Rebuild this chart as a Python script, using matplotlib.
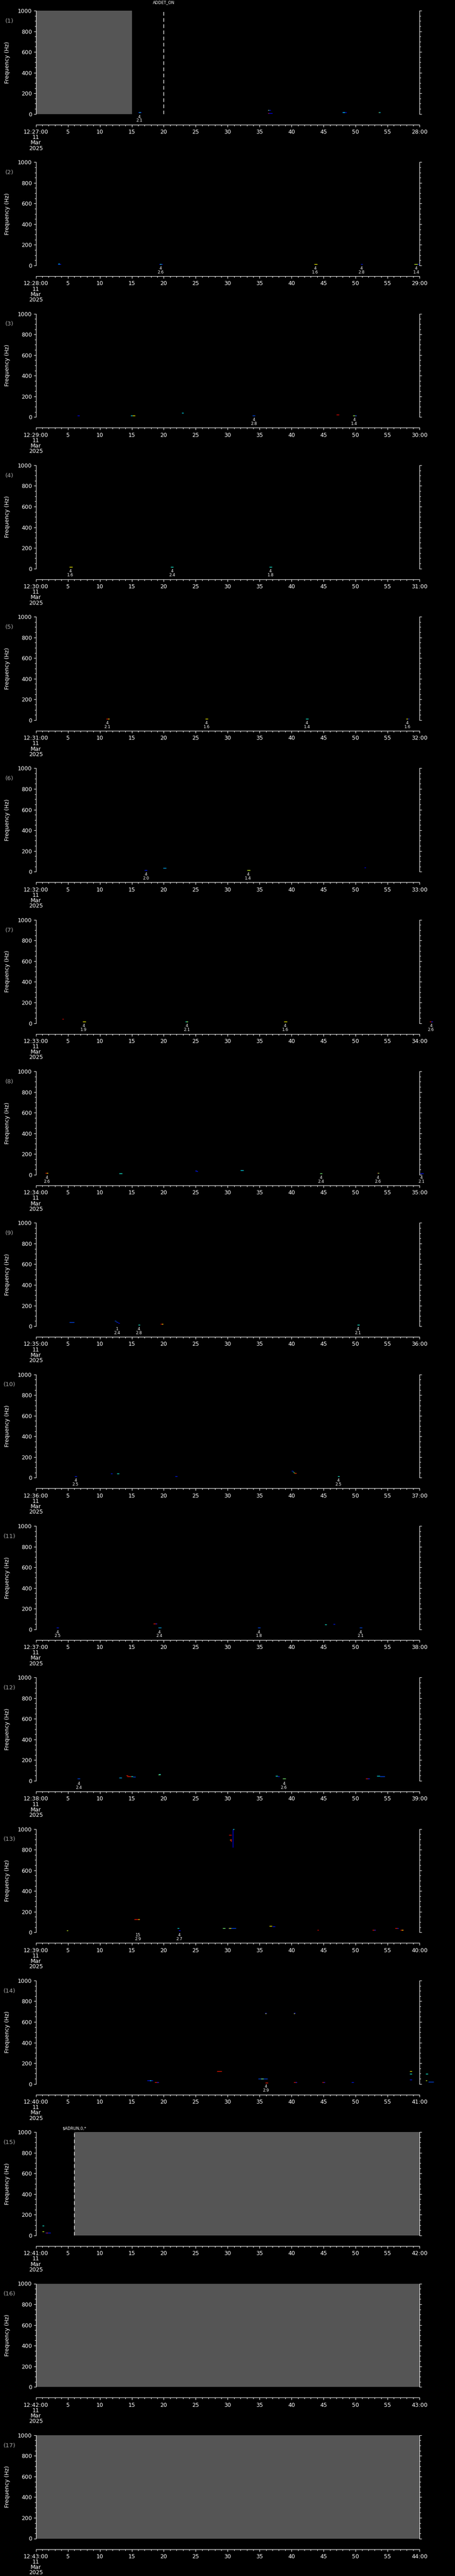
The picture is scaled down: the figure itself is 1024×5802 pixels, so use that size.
import matplotlib
matplotlib.use("Agg")
import matplotlib.pyplot as plt

# one panel per minute, 12:27 .. 12:43 on 11 Mar 2025
start_minutes = list(range(27, 44))

# shaded (no data) spans: (panel, t0, t1) in seconds
gray_spans = [(1, 0, 15), (15, 6, 60), (16, 0, 60), (17, 0, 60)]

# event markers: (panel, t, text)
events = [(1, 20.0, "ADDET_ON"), (15, 6.0, "$ADRUN,0,*")]

# detections: (panel, t0, t1, freq Hz, colour level 0..1 on jet)
marks = [
    (1, 16.0, 16.5, 16, 0.15), (1, 16.15, 16.35, 16, 0.4),
    (1, 36.3, 36.7, 36, 0.15), (1, 36.3, 36.45, 36, 0.55),
    (1, 36.3, 37.0, 7, 0.12), (1, 36.3, 36.45, 7, 0.9),
    (1, 47.9, 48.6, 16, 0.12), (1, 48.0, 48.3, 16, 0.35),
    (1, 53.6, 53.9, 16, 0.35), (1, 53.6, 53.7, 16, 0.75),
    (2, 3.4, 3.9, 14, 0.15), (2, 3.5, 3.7, 17, 0.35),
    (2, 19.3, 19.8, 13, 0.15), (2, 19.4, 19.6, 13, 0.4),
    (2, 43.5, 44.0, 13, 0.65),
    (2, 50.8, 51.1, 13, 0.15),
    (2, 59.2, 59.7, 13, 0.6), (2, 59.7, 60.0, 13, 0.15),
    (3, 6.5, 6.8, 14, 0.12),
    (3, 14.8, 15.1, 16, 0.35), (3, 15.1, 15.5, 14, 0.65),
    (3, 22.8, 23.1, 38, 0.35),
    (3, 33.9, 34.3, 14, 0.2),
    (3, 47.0, 47.4, 22, 0.9),
    (3, 49.6, 50.1, 14, 0.55), (3, 49.9, 50.1, 14, 0.15),
    (4, 5.2, 5.7, 14, 0.65),
    (4, 21.1, 21.5, 14, 0.38),
    (4, 36.5, 36.9, 14, 0.38),
    (5, 11.0, 11.5, 14, 0.88), (5, 11.3, 11.5, 14, 0.65),
    (5, 26.5, 26.9, 14, 0.65),
    (5, 42.2, 42.6, 14, 0.38),
    (5, 57.9, 58.2, 14, 0.65), (5, 58.2, 58.4, 14, 0.15),
    (6, 17.0, 17.4, 14, 0.15),
    (6, 19.9, 20.4, 34, 0.3),
    (6, 33.0, 33.5, 14, 0.6),
    (6, 51.4, 51.6, 38, 0.12),
    (7, 4.1, 4.3, 41, 0.9),
    (7, 7.3, 7.8, 14, 0.65),
    (7, 23.4, 23.8, 14, 0.38), (7, 23.6, 23.7, 14, 0.65),
    (7, 38.8, 39.3, 14, 0.65),
    (7, 61.6, 62.0, 14, 0.88), (7, 61.8, 62.1, 14, 0.15),
    (8, 1.5, 1.9, 16, 0.88), (8, 1.7, 1.9, 16, 0.65),
    (8, 13.0, 13.5, 14, 0.38),
    (8, 24.9, 25.2, 38, 0.15), (8, 25.1, 25.3, 34, 0.15),
    (8, 32.0, 32.5, 41, 0.35),
    (8, 44.4, 44.8, 14, 0.5),
    (8, 53.4, 53.7, 16, 0.88), (8, 53.5, 53.7, 16, 0.5),
    (8, 60.1, 60.6, 14, 0.15),
    (9, 5.2, 6.0, 38, 0.2),
    (9, 12.3, 12.5, 51, 0.2), (9, 12.5, 12.7, 45, 0.2), (9, 12.7, 12.9, 38, 0.15), (9, 12.9, 13.1, 32, 0.12),
    (9, 16.0, 16.3, 14, 0.38),
    (9, 19.5, 19.9, 20, 0.9), (9, 19.7, 19.9, 20, 0.65),
    (9, 50.3, 50.6, 14, 0.38),
    (10, 6.1, 6.4, 15, 0.15),
    (10, 11.7, 12.0, 41, 0.15), (10, 12.7, 13.0, 41, 0.38),
    (10, 21.8, 22.1, 15, 0.15),
    (10, 40.0, 40.2, 66, 0.15), (10, 40.2, 40.35, 58, 0.35), (10, 40.35, 40.5, 50, 0.6), (10, 40.5, 40.75, 43, 0.85),
    (10, 47.2, 47.5, 15, 0.38),
    (11, 3.2, 3.6, 14, 0.15),
    (11, 18.4, 18.9, 53, 0.88), (11, 18.7, 18.9, 53, 0.15),
    (11, 19.1, 19.6, 14, 0.3),
    (11, 34.7, 35.1, 14, 0.2),
    (11, 45.2, 45.5, 45, 0.38),
    (11, 46.5, 46.8, 49, 0.15),
    (11, 50.6, 51.0, 14, 0.2),
    (12, 6.5, 6.9, 20, 0.2),
    (12, 13.0, 13.4, 28, 0.3),
    (12, 14.1, 14.4, 50, 0.88), (12, 14.3, 14.9, 42, 0.88), (12, 14.9, 15.2, 42, 0.38), (12, 15.2, 15.6, 40, 0.2),
    (12, 19.1, 19.5, 62, 0.5), (12, 19.3, 19.5, 64, 0.35),
    (12, 37.5, 37.8, 48, 0.38), (12, 37.8, 38.1, 45, 0.15),
    (12, 38.6, 39.1, 22, 0.5),
    (12, 51.6, 52.1, 20, 0.88), (12, 51.9, 52.2, 20, 0.15),
    (12, 53.3, 53.8, 48, 0.35), (12, 53.8, 54.6, 44, 0.2),
    (13, 4.8, 5.0, 17, 0.6),
    (13, 15.4, 16.2, 125, 0.88), (13, 16.0, 16.2, 127, 0.65),
    (13, 22.1, 22.4, 40, 0.35), (13, 22.3, 22.6, 17, 0.12),
    (13, 29.2, 29.6, 40, 0.5),
    (13, 30.1, 31.3, 40, 0.2), (13, 30.2, 30.5, 40, 0.65),
    (13, 30.2, 30.6, 943, 0.9), (13, 30.3, 30.5, 897, 0.75), (13, 30.8, 31.0, 1000, 0.4),
    (13, 36.5, 36.9, 60, 0.65), (13, 37.0, 37.4, 58, 0.15),
    (13, 44.0, 44.2, 23, 0.9),
    (13, 52.6, 53.1, 23, 0.88), (13, 52.9, 53.1, 23, 0.15),
    (13, 56.2, 56.6, 40, 0.88), (13, 56.5, 56.7, 40, 0.15),
    (13, 57.0, 57.5, 23, 0.88), (13, 57.2, 57.4, 23, 0.65),
    (14, 17.4, 18.3, 34, 0.15), (14, 17.8, 18.0, 34, 0.38),
    (14, 18.6, 19.2, 17, 0.88), (14, 18.9, 19.2, 17, 0.15),
    (14, 28.3, 29.1, 122, 0.88),
    (14, 34.8, 36.2, 51, 0.2), (14, 35.2, 35.6, 51, 0.5),
    (14, 35.8, 36.1, 685, 0.15), (14, 35.9, 36.0, 682, 0.65),
    (14, 35.9, 36.3, 11, 0.88),
    (14, 40.3, 40.6, 685, 0.15), (14, 40.35, 40.45, 680, 0.65),
    (14, 40.3, 40.8, 17, 0.88), (14, 40.6, 40.8, 17, 0.15),
    (14, 44.8, 45.2, 17, 0.88), (14, 45.0, 45.2, 17, 0.15),
    (14, 49.4, 49.7, 17, 0.15),
    (14, 58.5, 58.8, 122, 0.65), (14, 58.5, 58.8, 97, 0.38), (14, 58.5, 58.8, 40, 0.15),
    (14, 61.0, 61.3, 97, 0.38), (14, 61.0, 61.2, 31, 0.6), (14, 61.4, 62.2, 20, 0.2),
    (15, 1.0, 1.3, 93, 0.38),
    (15, 1.0, 1.3, 39, 0.6),
    (15, 1.5, 2.3, 26, 0.15), (15, 1.6, 1.8, 26, 0.88),
]

# vertical streaks: (panel, t, f0, f1, level)
streaks = [(13, 30.8, 822, 1000, 0.12), (13, 30.55, 880, 905, 0.88)]

# labels below detections: (panel, t, top line, bottom line)
det_labels = [
    (1, 16.2, "4", "2.1"),
    (2, 19.5, "4", "2.6"), (2, 43.7, "4", "1.6"), (2, 50.9, "4", "2.8"), (2, 59.5, "4", "1.4"),
    (3, 34.1, "4", "2.8"), (3, 49.8, "4", "1.4"),
    (4, 5.4, "4", "1.6"), (4, 21.3, "4", "2.4"), (4, 36.7, "4", "1.8"),
    (5, 11.2, "4", "2.1"), (5, 26.7, "4", "1.6"), (5, 42.4, "4", "1.4"), (5, 58.1, "4", "1.6"),
    (6, 17.2, "4", "2.0"), (6, 33.2, "4", "1.4"),
    (7, 7.5, "4", "1.9"), (7, 23.6, "4", "2.1"), (7, 39.0, "4", "1.6"), (7, 61.8, "4", "2.6"),
    (8, 1.7, "4", "2.6"), (8, 44.6, "4", "2.4"), (8, 53.5, "4", "2.6"), (8, 60.3, "4", "2.1"),
    (9, 12.7, "1", "2.4"), (9, 16.1, "4", "2.8"), (9, 50.4, "4", "2.1"),
    (10, 6.2, "4", "2.5"), (10, 47.3, "4", "2.5"),
    (11, 3.4, "4", "2.5"), (11, 19.3, "4", "2.4"), (11, 34.9, "4", "1.8"), (11, 50.8, "4", "2.1"),
    (12, 6.7, "4", "2.4"), (12, 38.8, "4", "2.6"),
    (13, 16.0, "15", "2.9"), (13, 22.4, "4", "2.7"),
    (14, 36.0, "4", "2.9"),
]

W, H = 1024, 5802
cmap = plt.get_cmap("jet")
event_pad = {1: 13, 15: 6}

fig = plt.figure(figsize=(W / 100, H / 100), dpi=100, facecolor="black")

for k, m in enumerate(start_minutes):
    p = k + 1
    top = 24 + 341.3 * k
    ax = fig.add_axes([80.7 / W, 1 - (top + 232.7) / H, 863.3 / W, 232.7 / H])
    ax.set_facecolor("black")
    ax.set_xlim(0, 60)
    ax.set_ylim(0, 1000)

    ax.spines["top"].set_visible(False)
    for s in ["left", "right", "bottom"]:
        ax.spines[s].set_color("white")
        ax.spines[s].set_linewidth(0.8)
    ax.spines["bottom"].set_position(("outward", 17.3))

    ax.set_xticks(range(0, 61, 5))
    ax.set_xticks(range(0, 61), minor=True)
    xlabels = ["12:%02d:00\n11\nMar\n2025" % m] + [str(v) for v in range(5, 60, 5)] + ["%02d:00" % (m + 1)]
    ax.set_xticklabels(xlabels)
    ax.get_xticklabels()[0].set_linespacing(0.92)
    ax.set_yticks(range(0, 1001, 200))
    ax.set_yticks(range(0, 1001, 50), minor=True)

    ax.tick_params(axis="both", which="both", colors="white", direction="out", labelsize=9, width=0.8)
    ax.tick_params(axis="y", which="both", right=True, pad=3)
    ax.tick_params(axis="x", pad=4)
    ax.tick_params(which="major", length=3.4)
    ax.tick_params(which="minor", length=2.0)

    ax.set_ylabel("Frequency (Hz)", color="white", fontsize=9)
    ax.yaxis.set_label_coords(-0.0668, 0.5)
    ax.text(-0.069, 0.90, "(%d)" % p, transform=ax.transAxes, color="#a8a8a8",
            fontsize=9.5, ha="center", va="center")

    for (pp, t0, t1) in gray_spans:
        if pp == p:
            ax.axvspan(t0, t1, color="#555555", lw=0, zorder=0.5)

    for (pp, t0, t1, f, lev) in marks:
        if pp == p:
            ax.hlines(f, t0, t1, colors=[cmap(lev)], lw=1.0, clip_on=False, zorder=3)

    for (pp, t, f0, f1, lev) in streaks:
        if pp == p:
            ax.vlines(t, f0, f1, colors=[cmap(lev)], lw=1.0, clip_on=False, zorder=3)

    for (pp, t, a, b) in det_labels:
        if pp == p:
            ax.annotate(a, xy=(t, 0), xytext=(0, -4.6), textcoords="offset points",
                        ha="center", va="center", fontsize=6.5, color="white", annotation_clip=False)
            ax.annotate(b, xy=(t, 0), xytext=(0, -11.0), textcoords="offset points",
                        ha="center", va="center", fontsize=6.5, color="white", annotation_clip=False)

    for (pp, t, txt) in events:
        if pp == p:
            ax.axvline(t, color="white", lw=1.0, dashes=(6, 4), zorder=4)
            ax.annotate(txt, xy=(t, 1000), xytext=(0, event_pad[p]), textcoords="offset points",
                        ha="center", va="center", fontsize=6.5, color="white", annotation_clip=False)

fig.savefig("out.png", dpi=100, facecolor="black")
